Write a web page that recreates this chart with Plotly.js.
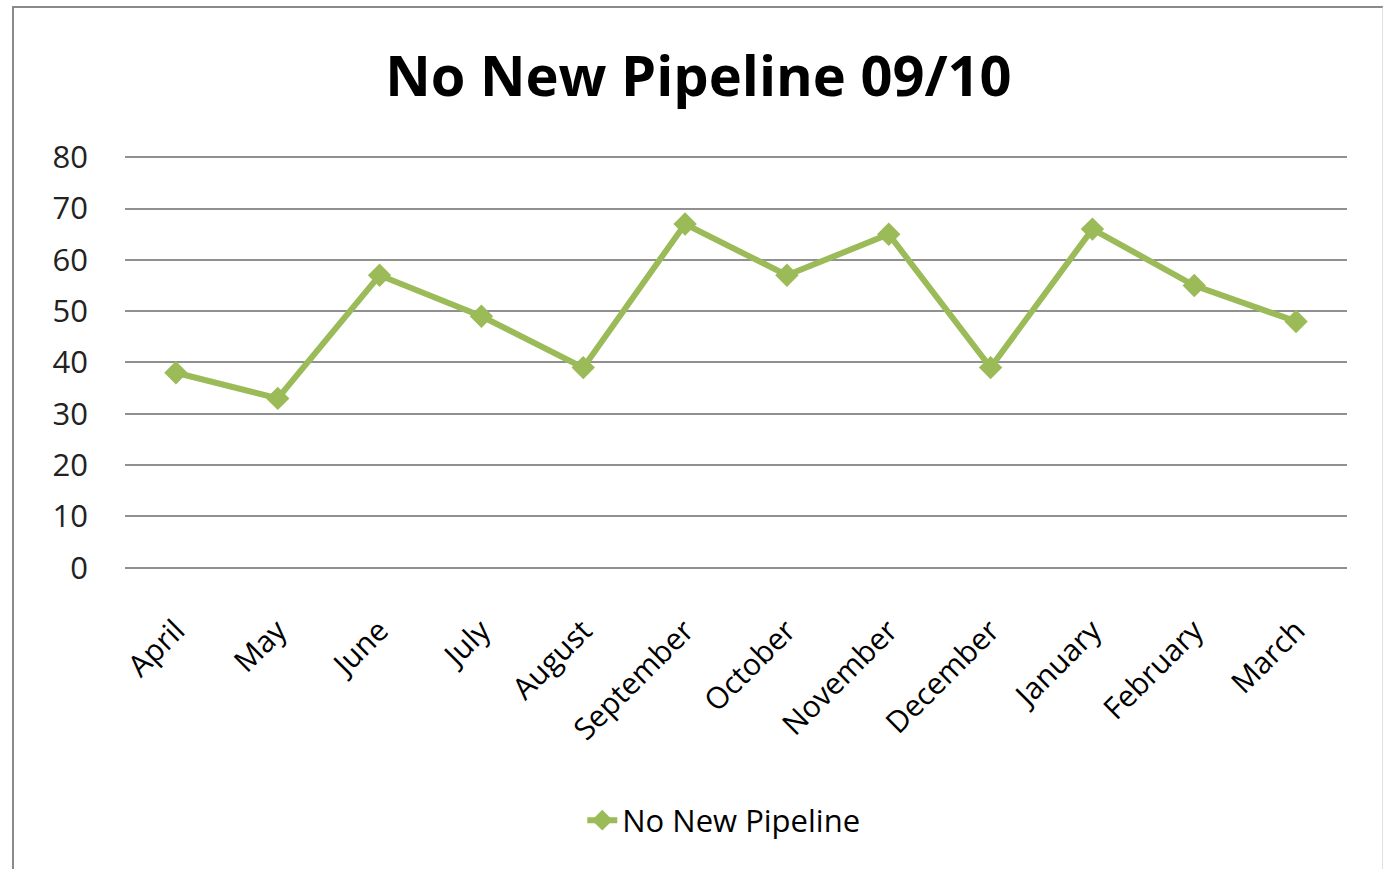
<!DOCTYPE html>
<html><head><meta charset="utf-8">
<script src="https://cdn.plot.ly/plotly-3.0.1.min.js"></script>
<style>
html,body{margin:0;padding:0;background:#fff;overflow:hidden}
#chart{width:1383px;height:869px;position:absolute;left:0;top:0}
#frame{position:absolute;left:12px;top:6px;width:1368px;height:900px;border-left:2px solid #8a8a8a;border-top:2px solid #8a8a8a;border-right:2px solid #e0e0e0;pointer-events:none}
</style></head>
<body>
<div id="chart"></div>
<div id="frame"></div>
<script>
const months = ["April","May","June","July","August","September","October","November","December","January","February","March"];
const noNewPipeline = [38,33,57,49,39,67,57,65,39,66,55,48];
const yTicks = [0,10,20,30,40,50,60,70,80];
const seriesName = "No New Pipeline";
const chartTitle = "No New Pipeline 09/10";

const font = "'Open Sans', sans-serif";
Plotly.newPlot('chart', [{
  x: months, y: noNewPipeline, name: seriesName, type: 'scatter', mode: 'lines+markers',
  line: {color: '#9BBB59', width: 6},
  marker: {symbol: 'diamond', size: 18, color: '#9BBB59'}
}], {
  width: 1383, height: 869,
  margin: {l: 125, r: 36, t: 156, b: 301},
  paper_bgcolor: 'rgba(0,0,0,0)', plot_bgcolor: 'rgba(0,0,0,0)',
  title: {text: chartTitle, font: {family: font, size: 56, color: '#000', weight: 'bold'}, x: 0.505, xanchor: 'center', y: 0.912, yanchor: 'middle'},
  xaxis: {type: 'category', range: [-0.5, months.length - 0.5], tickangle: -45, tickfont: {family: font, size: 30, color: '#000'}, showgrid: false, showline: false, ticks: '', ticklen: 0, ticklabelstandoff: 38},
  yaxis: {range: [-0.06, 80.25], tickvals: yTicks, ticktext: yTicks.map(String), tickfont: {family: font, size: 31, color: '#222'}, showgrid: true, gridcolor: '#909090', gridwidth: 1.6, zeroline: true, zerolinecolor: '#909090', zerolinewidth: 1.6, showline: false, ticks: '', ticklen: 0, ticklabelstandoff: 36},
  showlegend: true,
  legend: {orientation: 'h', x: 0.49, xanchor: 'center', y: -0.613, yanchor: 'middle', font: {family: font, size: 31, color: '#000'}}
}, {displayModeBar: false});
</script>
</body></html>
